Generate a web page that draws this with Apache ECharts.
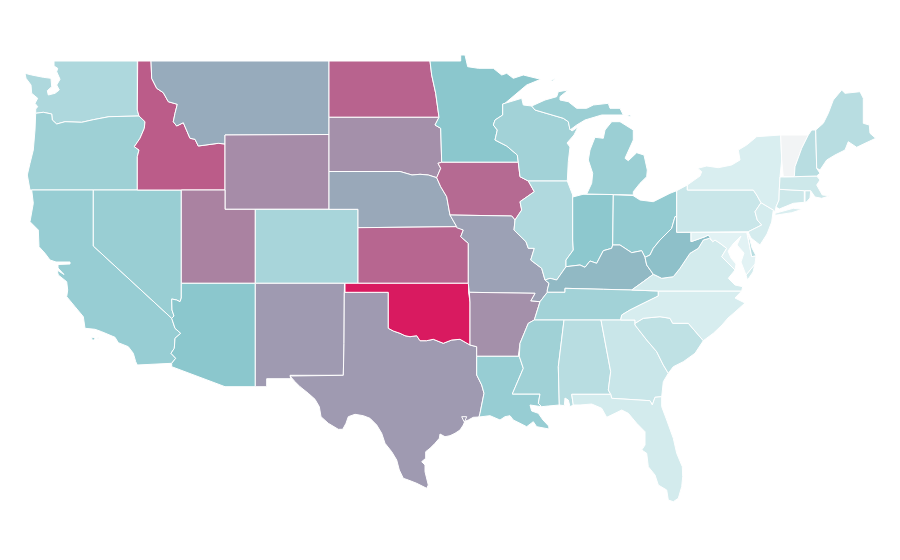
<!DOCTYPE html>
<html><head><meta charset="utf-8">
<style>html,body{margin:0;padding:0;background:#fff}#c{width:900px;height:560px}</style>
<script src="https://cdn.jsdelivr.net/npm/echarts@6/dist/echarts.min.js"></script>
</head><body><div id="c"></div>
<script>
// Index values per state, read from the picture's colours (0 = palest, 100 = deepest crimson); Vermont is drawn as no-value grey
const stateNames = ["Washington","Oregon","California","Nevada","Idaho","Montana","Wyoming","Utah","Arizona","Colorado","New Mexico","Texas","North Dakota","South Dakota","Nebraska","Kansas","Oklahoma","Minnesota","Iowa","Missouri","Arkansas","Louisiana","Wisconsin","Illinois","Indiana","Michigan","Ohio","Kentucky","Tennessee","Mississippi","Alabama","Georgia","Florida","South Carolina","North Carolina","Virginia","West Virginia","Maryland","Delaware","Pennsylvania","New Jersey","New York","Connecticut","Rhode Island","Massachusetts","Vermont","New Hampshire","Maine"];
const stateValues = [33,41,44,43,81,58,67,70,50,36,63,63,79,66,59,78,100,50,77,61,66,44,39,32,49,42,46,54,39,40,28,20,15,25,13,15,52,8,28,20,14,12,18,20,18,null,28,28];
const rampColors = ["#f2fafb","#8bc7cd","#d91a60"];
const noValueColor = "#f2f4f5";

// State outlines, traced in map units; shared borders are reused so neighbouring states meet cleanly
const B = {
 waOr:"139,116 109,116.7 93.3,119.7 81.7,122.3 65,121.7 56.7,124 52.3,120 51.7,114 43.3,112.3 35.7,113.3",
 orId:"139,116 145,121.7 144.3,128.3 140,138.3 134.3,146.7 139,150 137.3,156.7 137.3,190",
 idMt:"151,61 151.7,78.3 156.7,88.3 163.3,92.7 168.3,101.7 177.3,104.3 175,113.3 173.3,121.7 176.7,126 183.3,122.7 190,138.3 195,139.3 198.3,146 218.3,143.3 225,144",
 caAz:"171.7,318.3 175,328.3 180.7,333.3 175,338.3 174.3,348.3 171,353.3 175.7,358.3 171.7,363.3",
 nvAz:"181.3,283.3 181.3,298 180,301.7 176.7,300 171.7,299 172,310 174,316 171.7,318.3",
 red:"388.3,328.3 393.3,331 400,333.3 405,335.7 410,336.7 416.7,335.7 420,340.7 426.7,340.7 433.3,339.3 443.3,343.3 451.7,340 460,339.3 470,345",
 txLa:"476.7,356.3 476.7,375 481.7,385 484,393.3 480,413.3 479,417",
 neIa:"436.7,177.7 440.7,186.7 446.7,196.7 450,215 456.7,226.7",
 sdMn:"439,117.3 435,125 440.7,128.3 441.7,162.3",
 ndMn:"430,61 431.7,75 435.7,93.3 439,117.3",
 sdIa:"441.7,162.3 438,163.3 440.7,168.3 436.7,177.7",
 sdNe:"329,171.5 400,171.5 412,175 420,174.3 428.3,175 436.7,177.7",
 ksMo:"456.7,226.7 456.7,227.7 463.3,230 460.7,236.7 468.3,243.3 468.3,283.3",
 mnWi:"502.7,104 502.7,115 495,120 493.3,125 497.3,130 495,140 506.7,146 517.3,155 518.3,162.3",
 iaWi:"518.3,162.3 520,176.7 528.3,181",
 iaIl:"528.3,181 534.3,191.7 520,201.7 521.7,210 515,220",
 moIl:"515,220 514,230 526,241.7 528.3,248.3 534.3,248.3 530.7,260 541.7,268.3 545,280",
 moKy:"545,280 549,283.3 547.3,290 547.3,292.3",
 ilKy:"566,266.7 556.7,280 550,278.3 545,280",
 inIl:"572.7,240 573.3,250 566,260 566,266.7",
 inKy:"612.7,245 611.7,248.3 603.3,250.7 596.7,263.3 590,261 585,267.3 580,265 566,266.7",
 ohKy:"645,257.3 641.7,250.7 631.7,252.7 620,245 612.7,245",
 kyWv:"645,257.3 646.7,265 653.3,274.3",
 kyVa:"653.3,274.3 643.3,281.7 631.7,290",
 kyTn:"631.7,290 603.3,289.3 565,288.3 565,292.3 547.3,292.3",
 arTn:"547.3,292.3 540,301.7 534.3,320",
 arMs:"534.3,320 528.3,323.3 520,343.3 518.3,356.3",
 laMs:"519.3,356.3 523.3,368.3 512.3,394 540,394 538.3,403.3 541.7,406.7",
 tnNc:"620.7,320 621.7,315 630,310 640,305 658.3,296 658.3,291",
 gaFl:"610.7,394.3 611.7,398.3 650,400.7 652.3,405 655,397.3 661.7,396.7",
 gaSc:"635,325 646.7,340 656.7,351.7 663.3,365 668.3,373.3",
 scNc:"635,323.3 643.3,318.3 660,316.7 670,318.3 672.7,323.3 688.3,323.3 703.3,340.7",
 wvVa:"653.3,274.3 655,275 661.7,278.3 673.3,276.7 680,268.3 690,253.3 698.3,248.3 703.3,240 709.3,238.3 712.7,241.7 715,240",
 ohWv:"645,257.3 650,255 653.3,248.3 660,240 671.7,228.3 675,216.7 676.7,216.7",
 mdVa:"715,240 720,243.3 726.7,248.3 721.7,256.7 730,265 735,270",
 paNj:"753.3,190 756.7,195 761,202.7 755,211.7 757.3,220 761.7,225 748.3,231.7",
 nyNe:"780.7,135 781.7,160 780,176.7 779.3,189.3 779,200 776,207 775,211.7",
 wiMi:"531.7,106 535,110 563.3,118.3 568.3,121.7",
 vtNh:"808.3,135 801.7,148.3 795,166.7 794.3,176.7"
};
const rev = s => s.split(" ").reverse().join(" ");
const stateRings = {
 "Washington":[["54,61 137.3,61 137.3,110",B.waOr,"35.7,109 37.7,106.7 35,103.3 37.7,98.3 31.7,93.3 31,85 26,78.3 25,73.3 31.7,75 43.3,77.3 51,78.3 51.7,86.7 47.3,90.7 48.3,95 55,93.3 59.3,90 56.7,85 60,79.3 56.7,71.7 57.7,68.3 54,66"]],
 "Oregon":[[rev(B.waOr),B.orId,"30,190 27.3,175 30,163.3 33.3,150 35,130"]],
 "California":[["31.7,190 93.3,190 93.3,246",B.caAz,"137.3,365 135.7,361.7 133.3,353.3 128.3,346.7 118.3,342.7 115,337.3 101.7,331.7 95,329.3 85,328.3 83.3,316.7 75,306.7 66.7,296.7 67.7,290 66.7,281.7 58.3,275 57,270 64,274.5 58,268 58,264.5 70,264 70,262 56,262 50,260 45,253.3 39,246.7 38.3,230 30,221.7 33.3,203.3"],["91.7,337.3 95,337.5 94.5,340 92,340"],["97,337.5 99,337.7 98.5,339"]],
 "Nevada":[["93.3,190 181.3,190",B.nvAz,"93.3,246"]],
 "Idaho":[["137.7,61",B.idMt,"225,190 137.3,190 137.3,156.7 139,150 134.3,146.7 140,138.3 144.3,128.3 145,121.7 139,116 137.3,110"]],
 "Montana":[["151,61 329,61 329,134.5 225,135",rev(B.idMt)]],
 "Wyoming":[["225,135 329,134.5 329,209.3 225,209.3"]],
 "Utah":[["181.3,190 225,190 225,209.3 255.3,209.3 255.3,283.3 181.3,283.3"]],
 "Arizona":[["181.3,283.3 255.3,283.3 255.3,386.7 225,386.7 171.7,366.7 171.7,363.3",rev(B.caAz),rev(B.nvAz)]],
 "Colorado":[["255.3,209.3 358,209.3 358,283.3 255.3,283.3"]],
 "New Mexico":[["255.3,283.3 344.5,283.3 344.3,292.3 344,343.7 343.3,375.3 290,375.3 290.7,378.7 266.7,378.7 266.7,386.7 255.3,386.7"]],
 "Texas":[["344.3,292.3 388.3,292.3",B.red,"476.7,346.7",B.txLa,"473.3,417.3 468.3,420 464,421.7 461.7,416.7 466.7,416.7 463.3,425 460,430 455,433.3 450,435.7 445,436.7 440,434 439.3,438.3 435,443.3 430,448.3 425.7,451.7 425.7,458.3 421.7,461.7 425,465 425,471.7 428.3,485 426.7,488.3 416.7,483.3 408.3,480 403.3,478.3 399.3,470 396.7,460 391.7,451.7 385,443.3 381.7,433.3 376.7,425 370,418.3 363.3,415.7 355,414.3 348.3,416.7 346,423.3 342.7,429.3 338.3,429.3 328.3,423.3 321,416.7 319.3,406.7 315,399.3 308.3,393.3 300,386.7 295,381.7 290,376 290,375.3 343.3,375.3 344,343.7"]],
 "North Dakota":[["329,61",B.ndMn,"329,117.3"]],
 "South Dakota":[["329,117.3",B.sdMn,B.sdIa,rev(B.sdNe)]],
 "Nebraska":[[B.sdNe,B.neIa,"358,227.7 358,209.3 329,209.3"]],
 "Kansas":[["358,227.7",B.ksMo,"358,283.3"]],
 "Oklahoma":[["345,283.3 468.5,283.3 468.7,293 470,302 470,345",rev(B.red),"388.3,292.3 345,292.3"]],
 "Minnesota":[["430,61 460.7,61 460.7,55 465,55 467.7,66.7 478.3,68.3 493.3,68.3 501.7,75 506.7,73.3 513.3,78.3 523.3,75 540.7,79.3 526.7,85 505,103.3",B.mnWi,rev(B.sdMn),rev(B.ndMn)]],
 "Iowa":[["441.7,162.3 518.3,162.3",B.iaWi,B.iaIl,"511.7,216 450,215 446.7,196.7 440.7,186.7",rev(B.sdIa)]],
 "Missouri":[["456.7,226.7 450,215 511.7,216",B.moIl,B.moKy,"540,301.7 530.7,301 535,293.3 469.3,292.3",rev(B.ksMo)]],
 "Arkansas":[["469.3,292.3 535,293.3 530.7,301 540,301.7 534.3,320",B.arMs,"476.7,356.3 476.7,346.7 470,345 470,302"]],
 "Louisiana":[[B.txLa,"490,415.7 500,420 505,416.7 510,415.7 513.3,420 520,423.3 526.7,426.7 533.3,421.7 536.7,426.7 549,429 548.7,426 543,420 538.3,413.3 531.7,411 530,405",rev(B.laMs)]],
 "Mississippi":[["534.3,320 564,320 558.3,366.7 559.3,405 548.3,406 541.7,406.7",rev(B.laMs),rev(B.arMs)]],
 "Wisconsin":[["505,103.3 521.7,98.3 523.3,105 531.7,106 535,110 563.3,118.3 568.3,121.7 570,129 572,131 578,127 574,135 567,143 570,147 568.3,161.7 567.3,181 528.3,181",rev(B.iaWi),rev(B.mnWi)]],
 "Illinois":[["528.3,181 567.3,181 572.7,195",B.inIl,B.ilKy,rev(B.moIl),rev(B.iaIl)]],
 "Indiana":[["572.7,197 583,194.3 613.3,194.3",B.inKy,rev(B.inIl)]],
 "Michigan":[["586.7,194 633.3,195 633.3,191.7 640,183.3 646.7,176.7 647.3,170 644,155 636.7,152.7 628.3,160.7 625,158.3 633.3,140 633.3,130 620,121.7 611.7,121.7 605,130 603.3,138.3 595,137.3 590,150 588.3,160 592.7,173.3 591.7,183.3"],[B.wiMi,"570,130 576.7,125 585,120 601.7,115 620,115 623.3,115 620,108.3 610,108.3 608.3,103.3 593.3,105 586.7,108.3 576.7,108.3 568.3,101.7 560,100 560,96.7 568.3,90 558.3,91.7 556.7,96.7 545,100"],["550,80.7 556,78.3 553,81"],["627,115 631,115 630,117"]],
 "Ohio":[["613.3,194.8 633,195.5 640,200 653.3,201.7 670,193.3 676.7,190.7",rev(B.ohWv),B.ohKy]],
 "Kentucky":[[rev(B.moKy),rev(B.ilKy),rev(B.inKy),rev(B.ohKy),B.kyWv,B.kyVa,B.kyTn]],
 "Tennessee":[[rev(B.kyTn),"658.3,291",rev(B.tnNc),rev(B.arTn)]],
 "Alabama":[["564,320 601,320 610.7,371.7 608.3,390 610.7,394.3 571.7,394.3 573.3,405 570,406.7 568.3,400 565,398 564.3,405.7 559.3,405 558.3,366.7"]],
 "Georgia":[["601,320 635,320",B.gaSc,"663.3,381.7",rev(B.gaFl),"608.3,390 610.7,371.7"]],
 "Florida":[["571.7,394.3",B.gaFl,"661.7,406.7 666.7,420 673.3,438.3 676.7,453.3 682.3,466.7 682.7,476.7 681.7,486.7 678.3,498.3 673.3,501.7 668.3,500 666.7,490 658.3,485 655,475 648.3,466.7 646.7,453.3 641.7,450 645,445 645,431.7 636.7,423.3 628.3,413.3 621.7,410 615,413.3 606.7,417.3 601.7,408.3 591.7,404 580,405 573.3,405"]],
 "South Carolina":[[B.scNc,"695,353.3 683.3,361.7 673.3,366.7",rev(B.gaSc)]],
 "North Carolina":[["658.3,291 741.7,291 735,298 745,303 735,312 728,318 722,325 713.3,333.3",rev(B.scNc),"635,320",B.tnNc]],
 "Virginia":[[B.kyVa,"658.3,291 741.7,291 742.7,286.7 735,285 728.3,278.3 735,270",rev(B.mdVa),rev(B.wvVa)],["746,275 755,264 753,272 747.5,280"]],
 "West Virginia":[[rev(B.kyWv),B.ohWv,"676.7,232.3 691,232.3 691,241.7 705,236.7 708.3,235 715,240",rev(B.wvVa)]],
 "Maryland":[["691,232.3 746.7,232.3 751.7,256.7 756,256 755,264 746,275 741,262 744,253 737,245 741,236 737,240 733,244 728,251 731,258 736,264 735,270",rev(B.mdVa),"712.7,241.7 708.3,235 705,236.7 691,241.7"]],
 "Delaware":[["747.3,233 750,240 752,248 756,255.7 751.7,256.7"]],
 "Pennsylvania":[["676.7,190.7 687.3,185 687.3,190",B.paNj,"676.7,232.3"]],
 "New Jersey":[["761,202.7 773.3,210 771.7,222 767,234 760,245 751,238 749,234 748.3,231.7 761.7,225 757.3,220 755,211.7"]],
 "New York":[["687.3,185 700,176 701.7,171.7 697.7,168.3 706.7,166 718.3,167.7 731.7,165 740,160 738.3,150 746.7,145 756.7,136.7",B.nyNe,"773.3,210 761,202.7 756.7,195 753.3,190 687.3,190"],["775,213.3 793.3,208.3 802.3,209.3 791.7,212.7 775,215.3"]],
 "Connecticut":[["779.3,189.3 804.3,190.7 804.3,202.3 793.3,203.3 779.3,209 776,207 779,200"]],
 "Rhode Island":[["805,190.7 810.7,190.7 810,198 806.7,201.7 805,202.3"]],
 "Massachusetts":[["780,177 794.3,176.7 816.7,176 820,180 816.7,185 822.3,195 830,195.7 821.7,198.3 815,197 810.7,190.7 804.3,190.7 779.3,189.3"]],
 "Vermont":[["780.7,135 808.3,135",B.vtNh,"783.3,176.7 781.7,160"]],
 "New Hampshire":[["808.3,135 811.7,130 815.7,130 816.7,168.3 820,173.3 816.7,176 794.3,176.7 795,166.7 801.7,148.3"]],
 "Maine":[["815.7,130 823.3,123.3 828.3,113.3 833.3,100 841.7,90 845,93.3 860,91.7 863.3,98.3 863.3,123.3 869.3,125 870,133.3 875.7,138.3 865,143.3 856.7,147.3 848.3,141.7 845,150 835,155 826.7,160 820,170 816.7,168.3"]]
};
const toRing = parts => parts.join(" ").trim().split(/\s+/).map(p => { const [x,y] = p.split(",").map(Number); return [x,-y]; });
const usaGeo = { type:"FeatureCollection", features: stateNames.map(name => ({
  type:"Feature", properties:{name},
  geometry:{ type:"MultiPolygon", coordinates: stateRings[name].map(r => [toRing(r)]) }
}))};
echarts.registerMap("usa", usaGeo);
const chart = echarts.init(document.getElementById("c"), null, {renderer:"canvas"});
chart.setOption({
  animation:false,
  backgroundColor:"#ffffff",
  visualMap:{ show:false, type:"continuous", min:0, max:100, inRange:{color:rampColors} },
  series:[{
    type:"map", map:"usa", roam:false, silent:true,
    aspectScale:1, left:0, top:0, width:900, height:560,
    boundingCoords:[[0,0],[900,-560]],
    label:{show:false},
    itemStyle:{borderColor:"#ffffff", borderWidth:1, areaColor:noValueColor},
    data: stateNames.map((name,i)=>({name, value:stateValues[i]}))
  }]
});
</script></body></html>
